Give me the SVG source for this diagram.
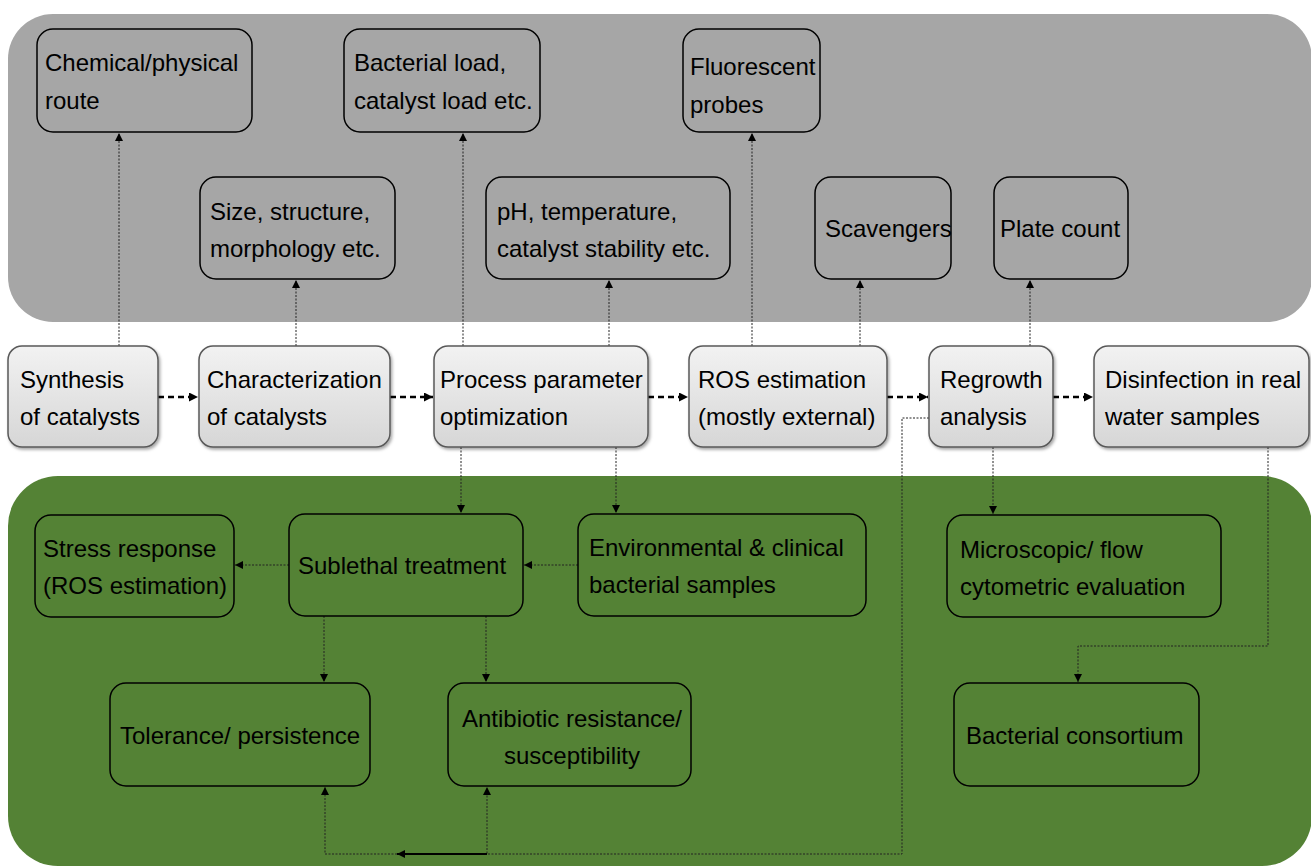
<svg xmlns="http://www.w3.org/2000/svg" width="1311" height="866" viewBox="0 0 1311 866">
<defs>
<linearGradient id="gbox" x1="0" y1="0" x2="0" y2="1">
<stop offset="0" stop-color="#f2f2f2"/>
<stop offset="1" stop-color="#d6d6d6"/>
</linearGradient>
<filter id="sh" x="-10%" y="-10%" width="130%" height="130%">
<feDropShadow dx="1.5" dy="2" stdDeviation="1.5" flood-color="#000" flood-opacity="0.35"/>
</filter>
<marker id="as" viewBox="0 0 10 10" refX="10" refY="5" markerWidth="9" markerHeight="8" markerUnits="userSpaceOnUse" orient="auto">
<path d="M0,0 L10,5 L0,10 z" fill="#000"/>
</marker>
<marker id="ab" viewBox="0 0 10 10" refX="10" refY="5" markerWidth="10" markerHeight="9" markerUnits="userSpaceOnUse" orient="auto">
<path d="M0,0 L10,5 L0,10 z" fill="#000"/>
</marker>
</defs>
<style>
.t{font-family:"Liberation Sans",Arial,sans-serif;font-size:24px;fill:#000}
.mid{fill:url(#gbox);stroke:#595959;stroke-width:1.5;filter:url(#sh)}
.out{fill:none;stroke:#000;stroke-width:1.5}
.dot{fill:none;stroke:#222;stroke-width:1;stroke-dasharray:2 1.5}
.dash{fill:none;stroke:#000;stroke-width:2.5;stroke-dasharray:6 4}
.sol{fill:none;stroke:#000;stroke-width:1.8}
</style>
<rect width="1311" height="866" fill="#fff"/>
<!-- panels -->
<rect id="panel-top" x="8" y="14" width="1304" height="308" rx="45" ry="45" fill="#a6a6a6"/>
<rect id="panel-bottom" x="8" y="476" width="1304" height="390" rx="50" ry="50" fill="#548235"/>

<!-- connectors -->
<g id="connectors">
<line class="dot" x1="119" y1="346" x2="119" y2="133" marker-end="url(#as)"/>
<line class="dot" x1="296" y1="346" x2="296" y2="280" marker-end="url(#as)"/>
<line class="dot" x1="463" y1="346" x2="463" y2="133" marker-end="url(#as)"/>
<line class="dot" x1="609" y1="346" x2="609" y2="280" marker-end="url(#as)"/>
<line class="dot" x1="752" y1="346" x2="752" y2="133" marker-end="url(#as)"/>
<line class="dot" x1="860" y1="346" x2="860" y2="280" marker-end="url(#as)"/>
<line class="dot" x1="1030" y1="346" x2="1030" y2="280" marker-end="url(#as)"/>

<line class="dash" x1="158" y1="397" x2="198" y2="397" marker-end="url(#ab)"/>
<line class="dash" x1="390" y1="397" x2="433" y2="397" marker-end="url(#ab)"/>
<line class="dash" x1="648" y1="397" x2="688" y2="397" marker-end="url(#ab)"/>
<line class="dash" x1="887" y1="397" x2="928" y2="397" marker-end="url(#ab)"/>
<line class="dash" x1="1053" y1="397" x2="1093" y2="397" marker-end="url(#ab)"/>

<line class="dot" x1="461" y1="447" x2="461" y2="513" marker-end="url(#as)"/>
<line class="dot" x1="616" y1="447" x2="616" y2="513" marker-end="url(#as)"/>
<line class="dot" x1="993" y1="447" x2="993" y2="514" marker-end="url(#as)"/>
<polyline class="dot" points="1268,447 1268,646 1078,646 1078,682" marker-end="url(#as)"/>

<line class="dot" x1="578" y1="565" x2="524" y2="565" marker-end="url(#as)"/>
<line class="dot" x1="289" y1="565" x2="235" y2="565" marker-end="url(#as)"/>
<line class="dot" x1="324" y1="616" x2="324" y2="682" marker-end="url(#as)"/>
<line class="dot" x1="486" y1="616" x2="486" y2="682" marker-end="url(#as)"/>

<polyline class="dot" points="929,418 902,418 902,854 487,854 487,787" marker-end="url(#as)"/>
<line class="sol" x1="487" y1="854" x2="397" y2="854" marker-end="url(#as)"/>
<polyline class="dot" points="397,854 325,854 325,787" marker-end="url(#as)"/>
</g>

<!-- top row -->
<g id="n-chem"><rect class="out" x="37" y="29" width="215" height="103" rx="16"/>
<text class="t" x="45" y="71">Chemical/physical</text><text class="t" x="45" y="109">route</text></g>
<g id="n-bacload"><rect class="out" x="344" y="29" width="196" height="103" rx="16"/>
<text class="t" x="354" y="71">Bacterial load,</text><text class="t" x="354" y="109">catalyst load etc.</text></g>
<g id="n-fluor"><rect class="out" x="683" y="29" width="137" height="103" rx="16"/>
<text class="t" x="690" y="75">Fluorescent</text><text class="t" x="690" y="113">probes</text></g>
<g id="n-size"><rect class="out" x="200" y="177" width="195" height="102" rx="16"/>
<text class="t" x="210" y="220">Size, structure,</text><text class="t" x="210" y="257">morphology etc.</text></g>
<g id="n-ph"><rect class="out" x="486" y="177" width="244" height="102" rx="16"/>
<text class="t" x="497" y="220">pH, temperature,</text><text class="t" x="497" y="257">catalyst stability etc.</text></g>
<g id="n-scav"><rect class="out" x="815" y="177" width="136" height="102" rx="16"/>
<text class="t" x="825" y="237">Scavengers</text></g>
<g id="n-plate"><rect class="out" x="994" y="177" width="134" height="102" rx="16"/>
<text class="t" x="1000" y="237">Plate count</text></g>

<!-- middle row -->
<g id="n-synth"><rect class="mid" x="8" y="346" width="150" height="101" rx="14"/>
<text class="t" x="20" y="388">Synthesis</text><text class="t" x="20" y="425">of catalysts</text></g>
<g id="n-char"><rect class="mid" x="199" y="346" width="191" height="101" rx="14"/>
<text class="t" x="207" y="388">Characterization</text><text class="t" x="207" y="425">of catalysts</text></g>
<g id="n-proc"><rect class="mid" x="434" y="346" width="214" height="101" rx="14"/>
<text class="t" x="440" y="388">Process parameter</text><text class="t" x="440" y="425">optimization</text></g>
<g id="n-ros"><rect class="mid" x="689" y="346" width="198" height="101" rx="14"/>
<text class="t" x="698" y="388">ROS estimation</text><text class="t" x="698" y="425">(mostly external)</text></g>
<g id="n-regrowth"><rect class="mid" x="929" y="346" width="124" height="101" rx="14"/>
<text class="t" x="940" y="388">Regrowth</text><text class="t" x="940" y="425">analysis</text></g>
<g id="n-disinf"><rect class="mid" x="1094" y="346" width="215" height="101" rx="14"/>
<text class="t" x="1105" y="388">Disinfection in real</text><text class="t" x="1105" y="425">water samples</text></g>

<!-- bottom row -->
<g id="n-stress"><rect class="out" x="35" y="515" width="199" height="102" rx="16"/>
<text class="t" x="43" y="557">Stress response</text><text class="t" x="43" y="594">(ROS estimation)</text></g>
<g id="n-sublethal"><rect class="out" x="289" y="514" width="234" height="102" rx="16"/>
<text class="t" x="298" y="574">Sublethal treatment</text></g>
<g id="n-env"><rect class="out" x="578" y="514" width="288" height="102" rx="16"/>
<text class="t" x="589" y="556">Environmental &amp; clinical</text><text class="t" x="589" y="593">bacterial samples</text></g>
<g id="n-micro"><rect class="out" x="947" y="515" width="274" height="102" rx="16"/>
<text class="t" x="960" y="558">Microscopic/ flow</text><text class="t" x="960" y="595">cytometric evaluation</text></g>
<g id="n-tol"><rect class="out" x="110" y="683" width="260" height="103" rx="16"/>
<text class="t" x="120" y="744">Tolerance/ persistence</text></g>
<g id="n-anti"><rect class="out" x="448" y="683" width="243" height="103" rx="16"/>
<text class="t" x="572" y="727" text-anchor="middle">Antibiotic resistance/</text><text class="t" x="572" y="764" text-anchor="middle">susceptibility</text></g>
<g id="n-consort"><rect class="out" x="954" y="683" width="245" height="103" rx="16"/>
<text class="t" x="966" y="744">Bacterial consortium</text></g>
</svg>
